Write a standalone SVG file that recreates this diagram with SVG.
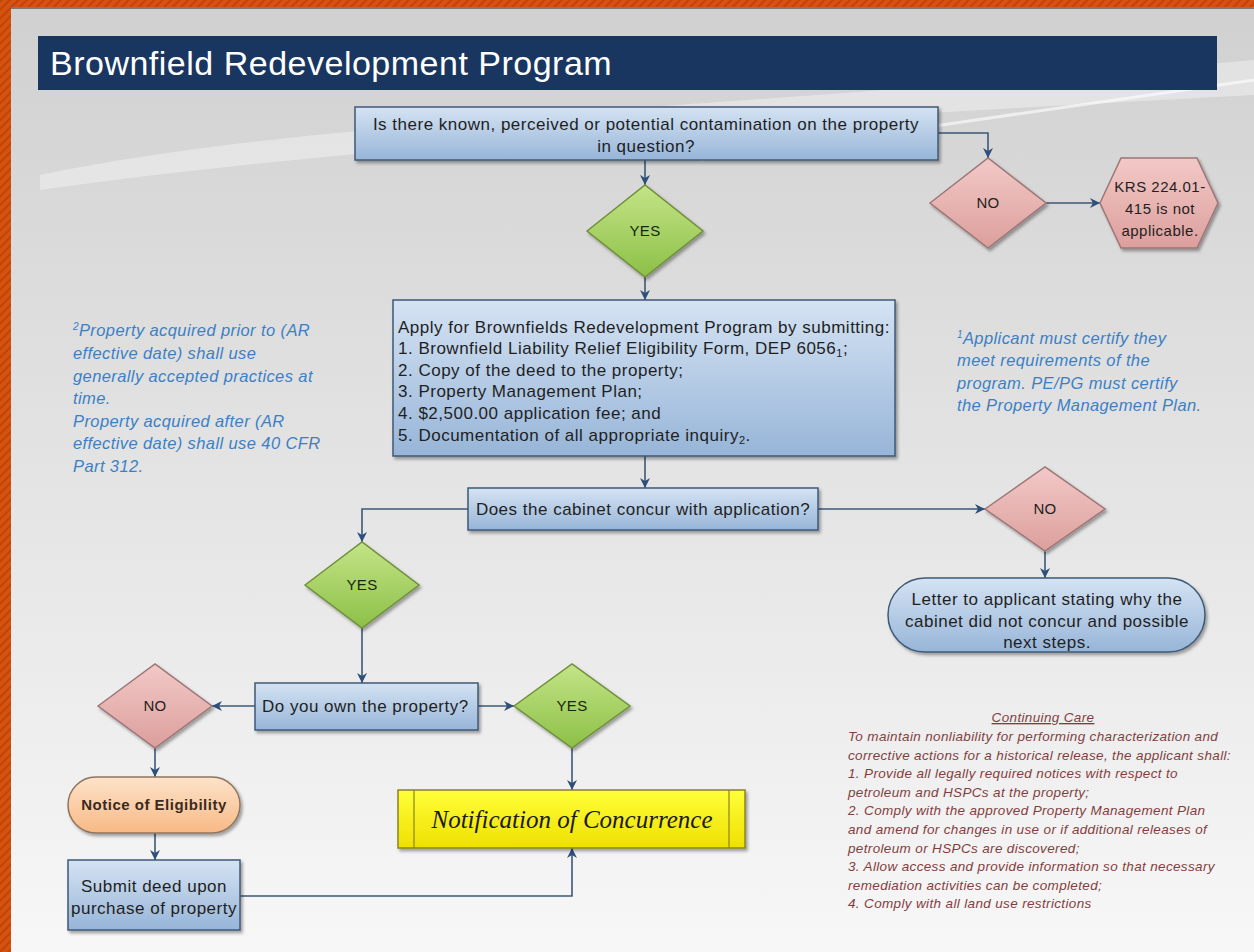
<svg xmlns="http://www.w3.org/2000/svg" width="1254" height="952" viewBox="0 0 1254 952">
<defs>
<style>
.t{font-family:"Liberation Sans",Arial,sans-serif;font-size:17px;letter-spacing:0.5px;fill:#1f1f1f}
.c{text-anchor:middle}
.dia{font-size:15px;letter-spacing:0.3px}
.dy{fill:#17280d}
.note{font-family:"Liberation Sans",Arial,sans-serif;font-style:italic;font-size:16.5px;letter-spacing:0.4px;fill:#3b80c6}
.care{font-family:"Liberation Sans",Arial,sans-serif;font-style:italic;font-size:13.5px;letter-spacing:0.35px;fill:#843e3e}
.box{fill:url(#gBlue);stroke:#3d5a78;stroke-width:1.5;filter:url(#sh)}
.yes{fill:url(#gGreen);stroke:#6f8f3a;stroke-width:1.5;filter:url(#sh)}
.no{fill:url(#gPink);stroke:#9c7676;stroke-width:1.5;filter:url(#sh)}
.conn{fill:none;stroke:#3b5878;stroke-width:1.6;marker-end:url(#arr)}
</style>
<linearGradient id="bg" x1="0" y1="0" x2="0" y2="1">
<stop offset="0" stop-color="#d0d0d0"/>
<stop offset="0.3" stop-color="#dcdcdc"/>
<stop offset="1" stop-color="#f7f7f7"/>
</linearGradient>
<linearGradient id="gBlue" x1="0" y1="0" x2="0" y2="1">
<stop offset="0" stop-color="#d5e3f3"/>
<stop offset="1" stop-color="#97b5d8"/>
</linearGradient>
<linearGradient id="gGreen" x1="0" y1="0" x2="0" y2="1">
<stop offset="0" stop-color="#c4e487"/>
<stop offset="1" stop-color="#8cc047"/>
</linearGradient>
<linearGradient id="gPink" x1="0" y1="0" x2="0" y2="1">
<stop offset="0" stop-color="#f2c9c7"/>
<stop offset="1" stop-color="#dc9f9c"/>
</linearGradient>
<linearGradient id="gOrange" x1="0" y1="0" x2="0" y2="1">
<stop offset="0" stop-color="#fde3ca"/>
<stop offset="1" stop-color="#f8b985"/>
</linearGradient>
<linearGradient id="gYellow" x1="0" y1="0" x2="0" y2="1">
<stop offset="0" stop-color="#ffff3a"/>
<stop offset="1" stop-color="#efe000"/>
</linearGradient>
<pattern id="hatch" width="6" height="6" patternUnits="userSpaceOnUse" patternTransform="rotate(45)">
<rect width="6" height="6" fill="#d5520f"/>
<rect width="2" height="6" fill="#c2430a"/>
</pattern>
<filter id="sh" x="-10%" y="-10%" width="130%" height="140%">
<feDropShadow dx="2" dy="2.5" stdDeviation="1.5" flood-color="#000" flood-opacity="0.35"/>
</filter>
<marker id="arr" viewBox="0 0 10 10" refX="10" refY="5" markerWidth="11" markerHeight="10" orient="auto" markerUnits="userSpaceOnUse">
<path d="M0,0 L10,5 L0,10 L3,5 z" fill="#2e4f7a"/>
</marker>
</defs>

<!-- background and frame -->
<rect x="0" y="0" width="1254" height="952" fill="url(#bg)"/>
<path d="M40,175 C300,120 700,110 1254,60 L1254,95 C800,120 400,140 40,190 Z" fill="#ffffff" opacity="0.35"/>
<path d="M700,160 C900,130 1050,110 1254,80" fill="none" stroke="#ffffff" stroke-width="3" opacity="0.6"/>
<rect x="0" y="0" width="1254" height="7" fill="url(#hatch)"/>
<rect x="0" y="7" width="1254" height="2" fill="#7a7a7a"/>
<rect x="0" y="0" width="11" height="952" fill="url(#hatch)"/>

<!-- title -->
<g id="title">
<rect x="38" y="36" width="1179" height="54" fill="#193661"/>
<text x="50" y="75" style="font-family:'Liberation Sans',Arial,sans-serif;font-size:34px;letter-spacing:0.5px;fill:#ffffff">Brownfield Redevelopment Program</text>
</g>

<!-- connectors -->
<g id="connectors">
<path class="conn" d="M645,160 V185"/>
<path class="conn" d="M645,277 V300"/>
<path class="conn" d="M938,133 H988 V158"/>
<path class="conn" d="M1046,203 H1100"/>
<path class="conn" d="M645,456 V488"/>
<path class="conn" d="M468,509 H362 V542"/>
<path class="conn" d="M818,509 H985"/>
<path class="conn" d="M1045,551 V578"/>
<path class="conn" d="M362,628 V683"/>
<path class="conn" d="M255,706 H212"/>
<path class="conn" d="M478,706 H514"/>
<path class="conn" d="M572,748 V790"/>
<path class="conn" d="M155,748 V777"/>
<path class="conn" d="M155,833 V860"/>
<path class="conn" d="M240,896 H572 V848"/>
</g>

<g id="q-contamination">
<rect class="box" x="355" y="107" width="583" height="53"/>
<text class="t c" x="646" y="130">Is there known, perceived or potential contamination on the property</text>
<text class="t c" x="646" y="152">in question?</text>
</g>

<g id="yes-1">
<polygon class="yes" points="587,231 645,185 703,231 645,277"/>
<text class="t c dia dy" x="645" y="236">YES</text>
</g>

<g id="no-1">
<polygon class="no" points="930,203 988,158 1046,203 988,248"/>
<text class="t c dia" x="988" y="208">NO</text>
</g>

<g id="not-applicable">
<polygon class="no" points="1100,203 1121,158 1197,158 1218,203 1197,248 1121,248"/>
<text class="t c" style="font-size:15px" x="1160" y="192">KRS 224.01-</text>
<text class="t c" style="font-size:15px" x="1160" y="214">415 is not</text>
<text class="t c" style="font-size:15px" x="1160" y="236">applicable.</text>
</g>

<g id="apply">
<rect class="box" x="393" y="300" width="502" height="156"/>
<text class="t" x="398" y="333">Apply for Brownfields Redevelopment Program by submitting:</text>
<text class="t" x="398" y="354">1. Brownfield Liability Relief Eligibility Form, DEP 6056<tspan font-size="11" dy="3">1</tspan><tspan dy="-3">;</tspan></text>
<text class="t" x="398" y="376">2. Copy of the deed to the property;</text>
<text class="t" x="398" y="397">3. Property Management Plan;</text>
<text class="t" x="398" y="419">4. $2,500.00 application fee; and</text>
<text class="t" x="398" y="441">5. Documentation of all appropriate inquiry<tspan font-size="11" dy="3">2</tspan><tspan dy="-3">.</tspan></text>
</g>

<g id="note-left">
<text class="note" x="73" y="336"><tspan font-size="10" dy="-6">2</tspan><tspan dy="6">Property acquired prior to (AR</tspan></text>
<text class="note" x="73" y="359">effective date) shall use</text>
<text class="note" x="73" y="382">generally accepted practices at</text>
<text class="note" x="73" y="404">time.</text>
<text class="note" x="73" y="427">Property acquired after (AR</text>
<text class="note" x="73" y="449">effective date) shall use 40 CFR</text>
<text class="note" x="73" y="472">Part 312.</text>
</g>

<g id="note-right">
<text class="note" x="957" y="344"><tspan font-size="10" dy="-6">1</tspan><tspan dy="6">Applicant must certify they</tspan></text>
<text class="note" x="957" y="366">meet requirements of  the</text>
<text class="note" x="957" y="389">program.  PE/PG must certify</text>
<text class="note" x="957" y="411">the Property Management Plan.</text>
</g>

<g id="q-concur">
<rect class="box" x="468" y="488" width="350" height="42"/>
<text class="t c" x="643" y="515">Does the cabinet concur with application?</text>
</g>

<g id="no-2">
<polygon class="no" points="985,509 1045,467 1105,509 1045,551"/>
<text class="t c dia" x="1045" y="514">NO</text>
</g>

<g id="letter">
<rect class="box" x="888" y="578" width="317" height="74" rx="37" ry="37"/>
<text class="t c" x="1047" y="605">Letter to applicant stating why the</text>
<text class="t c" x="1047" y="627">cabinet did not concur and possible</text>
<text class="t c" x="1047" y="648">next steps.</text>
</g>

<g id="yes-2">
<polygon class="yes" points="305,585 362,542 419,585 362,628"/>
<text class="t c dia dy" x="362" y="590">YES</text>
</g>

<g id="q-own">
<rect class="box" x="255" y="683" width="223" height="47"/>
<text class="t" x="262" y="712">Do you own the property?</text>
</g>

<g id="no-3">
<polygon class="no" points="98,706 155,664 212,706 155,748"/>
<text class="t c dia" x="155" y="711">NO</text>
</g>

<g id="yes-3">
<polygon class="yes" points="514,706 572,664 630,706 572,748"/>
<text class="t c dia dy" x="572" y="711">YES</text>
</g>

<g id="notification">
<rect x="398" y="790" width="347" height="58" fill="url(#gYellow)" stroke="#8a8420" stroke-width="1.5" filter="url(#sh)"/>
<line x1="414" y1="790" x2="414" y2="848" stroke="#8a8420" stroke-width="1.2"/>
<line x1="729" y1="790" x2="729" y2="848" stroke="#8a8420" stroke-width="1.2"/>
<text x="572" y="828" text-anchor="middle" style="font-family:'Liberation Serif','Times New Roman',serif;font-style:italic;font-size:25px;fill:#1a1a1a">Notification of Concurrence</text>
</g>

<g id="notice">
<rect x="68" y="777" width="172" height="56" rx="28" ry="28" fill="url(#gOrange)" stroke="#8f7560" stroke-width="1.5" filter="url(#sh)"/>
<text class="t c" style="font-size:15px;font-weight:bold;fill:#3a2a20" x="154" y="810">Notice of Eligibility</text>
</g>

<g id="submit-deed">
<rect class="box" x="68" y="860" width="172" height="70"/>
<text class="t c" x="154" y="892">Submit deed upon</text>
<text class="t c" x="154" y="914">purchase of property</text>
</g>

<g id="continuing-care">
<text class="care" x="1043" y="722" text-anchor="middle" text-decoration="underline">Continuing Care</text>
<text class="care" x="848" y="741">To maintain nonliability for performing characterization and</text>
<text class="care" x="848" y="760">corrective actions for a historical release, the applicant shall:</text>
<text class="care" x="848" y="778">1. Provide all legally required notices with respect to</text>
<text class="care" x="848" y="797">petroleum and HSPCs at the property;</text>
<text class="care" x="848" y="815">2. Comply with the approved Property Management Plan</text>
<text class="care" x="848" y="834">and amend for changes in use or if additional releases of</text>
<text class="care" x="848" y="853">petroleum or HSPCs are discovered;</text>
<text class="care" x="848" y="871">3. Allow access and provide information so that necessary</text>
<text class="care" x="848" y="890">remediation activities can be completed;</text>
<text class="care" x="848" y="908">4. Comply with all land use restrictions</text>
</g>
</svg>
